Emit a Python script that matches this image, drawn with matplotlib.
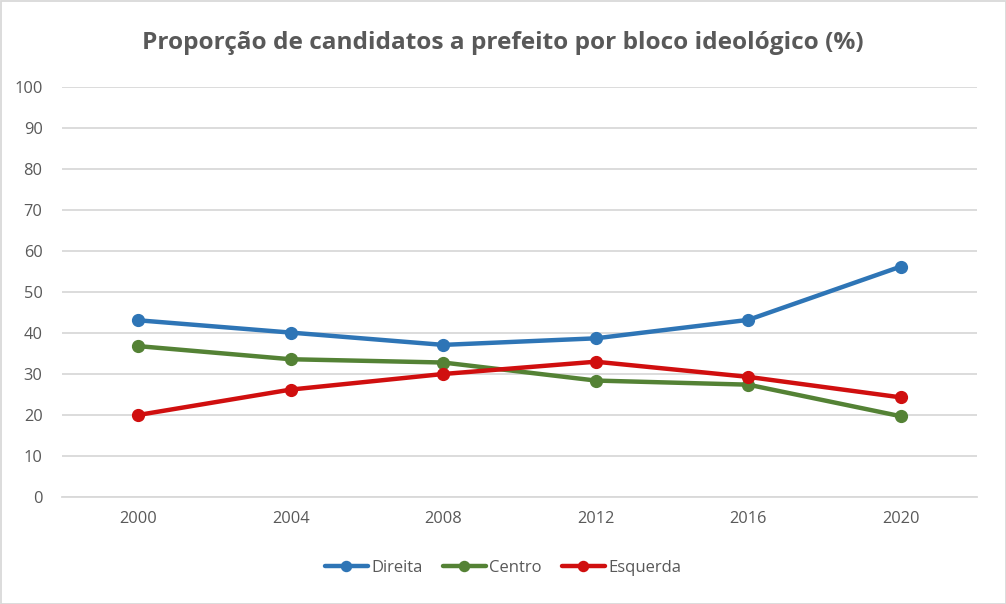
import matplotlib
matplotlib.use("Agg")
import matplotlib.pyplot as plt
from matplotlib.patches import Rectangle

years = ["2000", "2004", "2008", "2012", "2016", "2020"]
direita = [43.1, 40.1, 37.1, 38.7, 43.2, 56.2]
centro = [36.8, 33.6, 32.8, 28.4, 27.4, 19.7]
esquerda = [20.0, 26.2, 30.0, 33.0, 29.3, 24.3]
y_ticks = [0, 10, 20, 30, 40, 50, 60, 70, 80, 90, 100]
title = "Proporção de candidatos a prefeito por bloco ideológico (%)"

plt.rcParams['font.family'] = ['Open Sans', 'DejaVu Sans']
text_color = "#595959"
grid_color = "#d9d9d9"

fig = plt.figure(figsize=(10.06, 6.04), dpi=100)
ax = fig.add_axes([62/1006, 1-497/604, (977-62)/1006, (497-87)/604])

x = list(range(len(years)))
series = [("Direita", direita, "#2e75b6"),
          ("Centro", centro, "#548235"),
          ("Esquerda", esquerda, "#d00f0f")]
for name, vals, col in series:
    ax.plot(x, vals, color=col, lw=3.2, marker='o', ms=8.5,
            label=name, solid_capstyle='round', zorder=3)

ax.set_xlim(-0.5, len(years) - 0.5)
ax.set_ylim(0, 100)
ax.set_yticks(y_ticks)
ax.set_yticklabels([str(t) for t in y_ticks])
ax.set_xticks(x)
ax.set_xticklabels(years)
ax.tick_params(axis='both', length=0, labelsize=11.8, colors=text_color)
ax.tick_params(axis='y', pad=14)
ax.tick_params(axis='x', pad=10)
ax.grid(axis='y', color=grid_color, lw=1.3)
ax.set_axisbelow(True)
for s in ['top', 'right', 'left']:
    ax.spines[s].set_visible(False)
ax.spines['bottom'].set_color(grid_color)
ax.spines['bottom'].set_linewidth(1.3)

fig.text(0.5, 1-43/604, title, ha='center', va='center', fontsize=17.6,
         fontweight='bold', color=text_color)

leg = fig.legend(loc='center', bbox_to_anchor=(0.5, 1-568/604), ncol=3,
                 frameon=False, fontsize=12, handlelength=2.6,
                 handletextpad=0.2, columnspacing=1.2, markerscale=0.85)
for t in leg.get_texts():
    t.set_color(text_color)

fig.patches.append(Rectangle((0.5/1006, 0.5/604), 1-1/1006, 1-1/604,
                             transform=fig.transFigure, fill=False,
                             edgecolor=grid_color, lw=1.3))

fig.savefig("out.png", dpi=100, facecolor='white')
